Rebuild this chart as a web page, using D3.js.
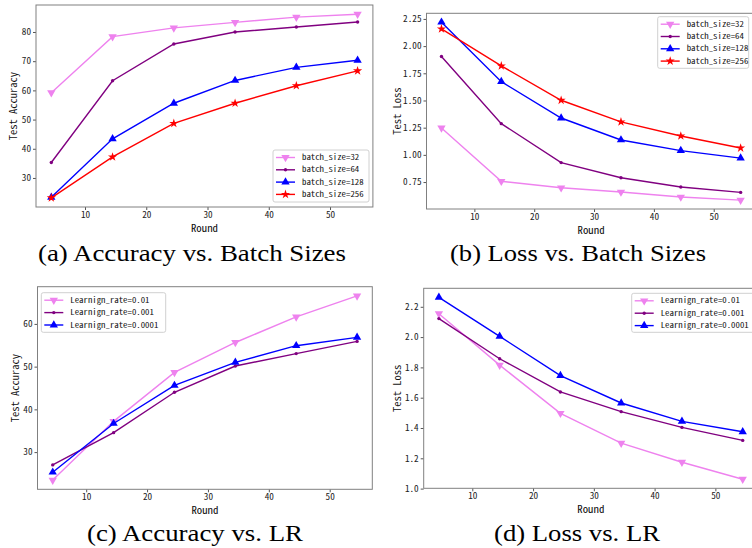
<!DOCTYPE html>
<html>
<head>
<meta charset="utf-8">
<title>Accuracy and loss vs. batch size and learning rate</title>
<style>
  body { margin: 0; background: #fff; }
  svg { display: block; }
  .tick text { font-family: "Noto Sans Mono CJK SC", "DejaVu Sans Mono", monospace; font-size: 8.5px; fill: #222; }
  .lab { font-family: "Noto Sans Mono CJK SC", "DejaVu Sans Mono", monospace; font-size: 10px; fill: #111; }
  .leg { font-family: "Noto Sans Mono CJK SC", "DejaVu Sans Mono", monospace; font-size: 7.5px; fill: #111; }
  .cap { font-family: "Liberation Serif", "DejaVu Serif", serif; font-size: 24px; fill: #000; }
</style>
</head>
<body>
<script src="https://cdn.jsdelivr.net/npm/d3@7"></script>
<script>
// communication rounds on the x axis
const rounds = [4.5, 14.5, 24.5, 34.5, 44.5, 54.5];
const xTicks = [10, 20, 30, 40, 50];

// batch size series
const batchNames = ["batch_size=32", "batch_size=64", "batch_size=128", "batch_size=256"];
const accBatch32  = [59.2, 78.4, 81.4, 83.3, 85.1, 86.1];
const accBatch64  = [35.3, 63.3, 75.9, 80.0, 81.7, 83.4];
const accBatch128 = [23.4, 43.4, 55.6, 63.4, 67.9, 70.3];
const accBatch256 = [23.2, 37.2, 48.7, 55.6, 61.6, 66.7];
const lossBatch32  = [1.247, 0.757, 0.697, 0.658, 0.612, 0.584];
const lossBatch64  = [1.905, 1.287, 0.929, 0.790, 0.705, 0.655];
const lossBatch128 = [2.220, 1.673, 1.339, 1.137, 1.039, 0.970];
const lossBatch256 = [2.158, 1.818, 1.502, 1.303, 1.174, 1.063];

// learning rate series
const lrNames = ["Learnign_rate=0.01", "Learnign_rate=0.001", "Learnign_rate=0.0001"];
const accLr01   = [23.45, 37.2, 48.65, 55.65, 61.65, 66.55];
const accLr001  = [27.0, 34.55, 44.0, 50.15, 53.05, 55.9];
const accLr0001 = [25.3, 36.7, 45.6, 51.0, 54.9, 56.85];
const lossLr01   = [2.154, 1.815, 1.497, 1.300, 1.174, 1.062];
const lossLr001  = [2.122, 1.857, 1.638, 1.508, 1.404, 1.318];
const lossLr0001 = [2.262, 2.005, 1.746, 1.565, 1.444, 1.375];

const accBatchTicks = [30, 40, 50, 60, 70, 80];
const lossBatchTicks = [0.75, 1.00, 1.25, 1.50, 1.75, 2.00, 2.25];
const accLrTicks = [30, 40, 50, 60];
const lossLrTicks = [1.0, 1.2, 1.4, 1.6, 1.8, 2.0, 2.2];

const captions = ["(a) Accuracy vs. Batch Sizes", "(b) Loss vs. Batch Sizes", "(c) Accuracy vs. LR", "(d) Loss vs. LR"];

// styles per series position
const colors = ["violet", "purple", "blue", "red"];
const markers = ["down", "dot", "up", "star"];

const W = 752, H = 548;
const svg = d3.select("body").append("svg").attr("width", W).attr("height", H);

// box = axes rectangle, legend = [x, y, w, h], cap = [centre x, baseline, width]
const panels = [
  { box: [36, 5, 372.9, 207], series: [accBatch32, accBatch64, accBatch128, accBatch256], names: batchNames,
    yTicks: accBatchTicks, fmt: d3.format("d"), ylabel: "Test Accuracy", yoff: 23,
    legend: [273, 150, 96, 52], cap: [192, 261, 308] },
  { box: [426.5, 13.3, 755.6, 209], series: [lossBatch32, lossBatch64, lossBatch128, lossBatch256], names: batchNames,
    yTicks: lossBatchTicks, fmt: d3.format(".2f"), ylabel: "Test Loss", yoff: 29.5,
    legend: [657.7, 16.7, 91, 51.6], cap: [578, 261, 256] },
  { box: [37.5, 286.7, 372.3, 489.3], series: [accLr01, accLr001, accLr0001], names: lrNames,
    yTicks: accLrTicks, fmt: d3.format("d"), ylabel: "Test Accuracy", yoff: 22,
    legend: [41.3, 292.7, 124.4, 39.6], cap: [195, 541, 216] },
  { box: [423.7, 288.3, 757.9, 488.3], series: [lossLr01, lossLr001, lossLr0001], names: lrNames,
    yTicks: lossLrTicks, fmt: d3.format(".1f"), ylabel: "Test Loss", yoff: 26.5,
    legend: [631.7, 293.3, 124, 39], cap: [577, 541, 166] }
];

function drawMarker(g, kind, color, x, y) {
  if (kind === "dot") {
    g.append("circle").attr("cx", x).attr("cy", y).attr("r", 1.7).attr("fill", color);
  } else if (kind === "star") {
    g.append("path").attr("d", d3.symbol(d3.symbolStar, 26)())
      .attr("transform", `translate(${x},${y})`).attr("fill", color);
  } else {
    const rot = kind === "down" ? 180 : 0;
    g.append("path").attr("d", d3.symbol(d3.symbolTriangle, 30)())
      .attr("transform", `translate(${x},${y}) rotate(${rot})`).attr("fill", color);
  }
}

// squeeze tick labels to the half-width look of the original font
function fitTicks(a) {
  a.selectAll(".tick text").each(function () {
    const t = d3.select(this);
    t.attr("textLength", t.text().length * 4.6).attr("lengthAdjust", "spacingAndGlyphs");
  });
}

panels.forEach((p, pi) => {
  const [x0, y0, x1, y1] = p.box;
  const all = p.series.flat();
  const lo = d3.min(all), hi = d3.max(all), pad = (hi - lo) * 0.05;
  const xpad = (rounds[rounds.length - 1] - rounds[0]) * 0.05;

  const x = d3.scaleLinear().domain([rounds[0] - xpad, rounds[rounds.length - 1] + xpad]).range([x0, x1]);
  const y = d3.scaleLinear().domain([lo - pad, hi + pad]).range([y1, y0]);

  const g = svg.append("g");

  g.append("g").attr("transform", `translate(0,${y1})`)
    .call(d3.axisBottom(x).tickValues(xTicks).tickSize(3).tickPadding(1.5))
    .call(a => a.select(".domain").remove())
    .call(a => a.selectAll("line").attr("stroke", "#555"))
    .call(fitTicks);

  g.append("g").attr("transform", `translate(${x0},0)`)
    .call(d3.axisLeft(y).tickValues(p.yTicks).tickFormat(p.fmt).tickSize(3).tickPadding(2))
    .call(a => a.select(".domain").remove())
    .call(a => a.selectAll("line").attr("stroke", "#555"))
    .call(fitTicks);

  g.append("rect").attr("x", x0).attr("y", y0).attr("width", x1 - x0).attr("height", y1 - y0)
    .attr("fill", "none").attr("stroke", "#808080").attr("stroke-width", 1);

  g.append("text").attr("class", "lab").attr("x", (x0 + x1) / 2)
    .attr("y", y1 + 24.5).attr("text-anchor", "middle")
    .attr("textLength", 27).attr("lengthAdjust", "spacingAndGlyphs").text("Round");

  g.append("text").attr("class", "lab")
    .attr("transform", `translate(${x0 - p.yoff},${(y0 + y1) / 2}) rotate(-90)`)
    .attr("text-anchor", "middle").attr("dy", "0.35em")
    .attr("textLength", p.ylabel.length * 5.25).attr("lengthAdjust", "spacingAndGlyphs").text(p.ylabel);

  const line = d3.line().x((d, i) => x(rounds[i])).y(d => y(d));
  p.series.forEach((s, si) => {
    g.append("path").datum(s).attr("d", line).attr("fill", "none")
      .attr("stroke", colors[si]).attr("stroke-width", 1.4);
    s.forEach((v, i) => drawMarker(g, markers[si], colors[si], x(rounds[i]), y(v)));
  });

  // legend
  const [lx, ly, lw, lh] = p.legend;
  const lg = svg.append("g");
  lg.append("rect").attr("x", lx).attr("y", ly).attr("width", lw).attr("height", lh).attr("rx", 2)
    .attr("fill", "#fff").attr("fill-opacity", 0.85).attr("stroke", "#d0d0d0");
  const step = p.series.length === 4 ? 12.3 : 12.4;
  p.names.forEach((n, si) => {
    const ry = ly + 7.5 + si * step;
    lg.append("line").attr("x1", lx + 3).attr("x2", lx + 22).attr("y1", ry).attr("y2", ry)
      .attr("stroke", colors[si]).attr("stroke-width", 1.4);
    drawMarker(lg, markers[si], colors[si], lx + 12.5, ry);
    lg.append("text").attr("class", "leg").attr("x", lx + 29).attr("y", ry).attr("dy", "0.35em")
      .attr("textLength", n.length * 4.4).attr("lengthAdjust", "spacingAndGlyphs").text(n);
  });

  svg.append("text").attr("class", "cap").attr("x", p.cap[0]).attr("y", p.cap[1])
    .attr("text-anchor", "middle")
    .attr("textLength", p.cap[2]).attr("lengthAdjust", "spacingAndGlyphs").text(captions[pi]);
});
</script>
</body>
</html>
